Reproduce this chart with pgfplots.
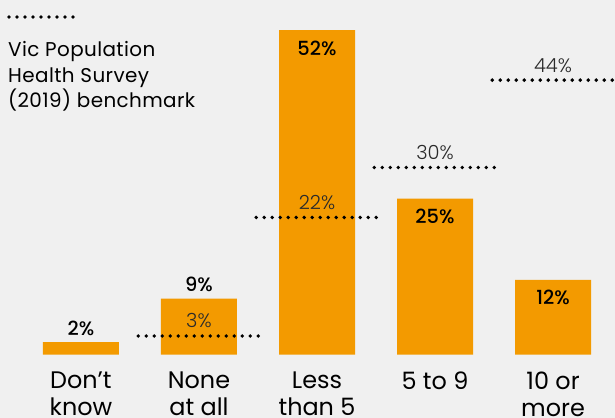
\documentclass[border=0pt]{standalone}
\usepackage{pgfplots}
\pgfplotsset{compat=1.18}
\usepackage{fontspec}
\setmainfont{Poppins}
\newfontfamily\medfont{Poppins Medium}
\newfontfamily\lightfont{Poppins Light}
\newfontfamily\legfont{Poppins}[LetterSpace=2]
\definecolor{barc}{HTML}{F39A00}
\definecolor{bg}{HTML}{F0F0F0}
\definecolor{benchtxt}{HTML}{2A2A2A}
\tikzset{benchline/.style={black, line width=3.8bp, line cap=round, dash pattern=on 0pt off 8bp}}
\begin{document}
\begin{tikzpicture}
\fill[bg] (0,-63.3bp) rectangle (615bp,354.7bp);
\begin{axis}[
  at={(0,0)}, anchor=south west,
  scale only axis, width=615bp, height=354.7bp,
  xmin=-0.686, xmax=4.525, ymin=0, ymax=56.84,
  axis y line=none, axis x line*=bottom, x axis line style={draw=none},
  xtick={0,1,2,3,4},
  xticklabels={Don’t\\know, None\\at all, Less\\than 5, 5 to 9, 10 or\\more},
  major tick length=0pt, ytick=\empty,
  xticklabel style={align=center, font=\fontsize{24}{26.5}\selectfont, anchor=north, yshift=-14bp, text=black},
  clip=false,
]
\addplot[ybar, bar width=0.644, fill=barc, draw=none] coordinates {(0,2) (1,9) (2,52) (3,25) (4,12)};
% benchmark lines
\addplot[benchline] coordinates {(0.485,3) (1.515,3)};
\addplot[benchline] coordinates {(1.485,22) (2.515,22)};
\addplot[benchline] coordinates {(2.485,30) (3.515,30)};
\addplot[benchline] coordinates {(3.485,44) (4.515,44)};
% value labels above
\addplot[draw=none, mark=none, nodes near coords, point meta=explicit symbolic,
  every node near coord/.append style={anchor=base, yshift=7bp, font=\medfont\fontsize{19.5}{22}\selectfont, text=black, inner sep=0pt}]
  coordinates {(0,2) [2\%] (1,9) [9\%]};
% value labels inside
\addplot[draw=none, mark=none, nodes near coords, point meta=explicit symbolic,
  every node near coord/.append style={anchor=base, yshift=-25bp, font=\medfont\fontsize{19.5}{22}\selectfont, text=black, inner sep=0pt}]
  coordinates {(2,52) [52\%] (3,25) [25\%] (4,12) [12\%]};
% benchmark labels
\addplot[draw=none, mark=none, nodes near coords, point meta=explicit symbolic,
  every node near coord/.append style={anchor=base, yshift=8bp, font=\lightfont\fontsize{19.5}{22}\selectfont, text=benchtxt, inner sep=0pt}]
  coordinates {(1,3) [3\%] (2,22) [22\%] (3,30) [30\%] (4,44) [44\%]};
\end{axis}
\draw[benchline] (9bp,337.7bp) -- (75bp,337.7bp);
\begin{scope}[every node/.style={anchor=base west, inner sep=0pt, font=\legfont\fontsize{20}{25.5}\selectfont}]
\node at (8bp,298bp) {Vic Population};
\node at (8bp,272.5bp) {Health Survey};
\node at (8bp,247bp) {(2019) benchmark};
\end{scope}
\pgfresetboundingbox
\useasboundingbox (0,-63.3bp) rectangle (615bp,354.7bp);
\end{tikzpicture}
\end{document}
